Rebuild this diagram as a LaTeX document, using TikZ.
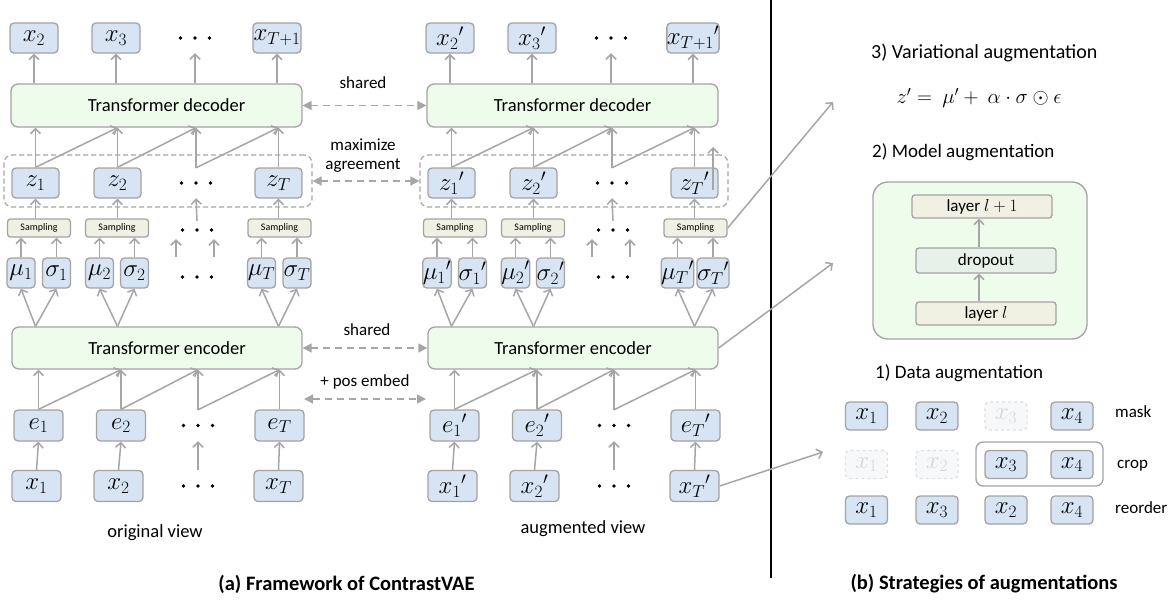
\documentclass[tikz,border=0pt]{standalone}
\usepackage{fontspec}
\setmainfont{Carlito}
\usetikzlibrary{arrows.meta}
\definecolor{boxblue}{HTML}{D6E4F4}
\definecolor{bord}{HTML}{A3A3A3}
\definecolor{arrg}{HTML}{A6A6A6}
\definecolor{grn}{HTML}{EEFCEB}
\definecolor{beige}{HTML}{F0F0E3}
\definecolor{drop}{HTML}{E7F0E9}
\definecolor{fadeb}{HTML}{F6F8FA}
\definecolor{fadel}{HTML}{E0E0E0}
\definecolor{fadet}{HTML}{D6D6D6}
\tikzset{
 bx/.style={draw=bord, fill=boxblue, line width=1.3pt, rounded corners=4pt, inner sep=0pt, minimum width=48, minimum height=30, font=\fontsize{23}{26}\selectfont},
 sbx/.style={bx, minimum width=28},
 fbx/.style={bx, draw=fadel, fill=fadeb, dashed, text=fadet},
 samp/.style={draw=bord, fill=beige, line width=1.3pt, rounded corners=3pt, inner sep=0pt, minimum width=63, minimum height=18, font=\fontsize{10}{12}\selectfont},
 tbox/.style={draw=bord, fill=grn, line width=1.3pt, rounded corners=7pt, inner sep=0pt, minimum width=290, minimum height=43, font=\fontsize{18.5}{22}\selectfont},
 lbox/.style={draw=bord, fill=beige, line width=1.3pt, rounded corners=3pt, inner sep=0pt, minimum width=140, minimum height=23, font=\fontsize{17}{20}\selectfont},
 dn/.style={inner sep=0pt, minimum width=40},
 lab/.style={inner sep=0pt, font=\fontsize{17}{19}\selectfont},
 head/.style={inner sep=0pt, anchor=west, font=\fontsize{19}{22}\selectfont},
 ttl/.style={inner sep=0pt, font=\fontsize{20.5}{24}\selectfont\bfseries},
 arr/.style={draw=arrg, line width=1.5pt, -{Straight Barb[length=5pt,width=10pt]}},
 darr/.style={draw=arrg, line width=1.5pt, dash pattern=on 7pt off 5pt, {Triangle[length=9pt,width=9pt]}-{Triangle[length=9pt,width=9pt]}},
 dashbox/.style={draw=arrg, line width=1.2pt, dash pattern=on 5pt off 3pt, rounded corners=8pt, inner sep=0pt},
}
\newcommand{\dotsat}[1]{\fill ([xshift=-14.5pt]#1.center) circle (1.8pt) (#1.center) circle (1.8pt) ([xshift=14.5pt]#1.center) circle (1.8pt);}
\newcommand{\drawview}[4]{%
\begin{scope}[xshift=#3]
 % top outputs
 \node[bx] (#1o2) at (34,38) {$x_2#2$};
 \node[bx] (#1o3) at (116,38) {$x_3#2$};
 \node[dn, minimum height=30] (#1od) at (195,38) {};
 \node[bx] (#1oT) at (277,38) {$x_{T+1}#2$};
 \node[tbox, minimum width=291] (#1dec) at (156.5,105.5) {#4Transformer decoder};
 % latent z
 \node[dashbox, minimum width=308, minimum height=52] (#1zb) at (158,181) {};
 \node[bx, minimum width=47] (#1z1) at (35.5,183) {$z_1#2$};
 \node[bx, minimum width=47] (#1z2) at (117.5,183) {$z_2#2$};
 \node[dn, minimum height=30] (#1zd) at (196,183) {};
 \node[bx, minimum width=47] (#1zT) at (278.5,183) {$z_T#2$};
 % sampling
 \node[samp] (#1s1) at (39,228) {Sampling};
 \node[samp] (#1s2) at (117,228) {Sampling};
 \node[dn, minimum height=18] (#1sd) at (197,230) {};
 \node[samp] (#1sT) at (279.5,228) {Sampling};
 % mu sigma
 \node[sbx] (#1m1) at (21,273) {$\mu_1#2$};
 \node[sbx] (#1g1) at (56.5,273) {$\sigma_1#2$};
 \node[sbx] (#1m2) at (99.5,273) {$\mu_2#2$};
 \node[sbx] (#1g2) at (134.5,273) {$\sigma_2#2$};
 \node[dn, minimum height=40] (#1md) at (197,277) {};
 \node[sbx] (#1mT) at (261.5,273) {$\mu_T#2$};
 \node[sbx] (#1gT) at (297,273) {$\sigma_T#2$};
 % encoder
 \node[tbox, minimum height=42] (#1enc) at (157,348) {#4Transformer encoder};
 % embeddings
 \node[bx, minimum width=49, minimum height=31] (#1e1) at (38.5,425.5) {$e_1#2$};
 \node[bx, minimum width=49, minimum height=31] (#1e2) at (121,425.5) {$e_2#2$};
 \node[dn, minimum height=31] (#1ed) at (198,425.5) {};
 \node[bx, minimum width=49, minimum height=31] (#1eT) at (279.5,425.5) {$e_T#2$};
 % inputs
 \node[bx, minimum width=49, minimum height=31] (#1i1) at (36.5,486) {$x_1#2$};
 \node[bx, minimum width=49, minimum height=31] (#1i2) at (118.5,486) {$x_2#2$};
 \node[dn, minimum height=31] (#1id) at (198,486) {};
 \node[bx, minimum width=49, minimum height=31] (#1iT) at (278.5,486) {$x_T#2$};
 \dotsat{#1od}\dotsat{#1zd}\dotsat{#1sd}\dotsat{#1md}\dotsat{#1ed}\dotsat{#1id}
 % arrows
 \foreach \n in {o2,o3,od,oT} \draw[arr] (#1dec.north -| #1\n) -- (#1\n.south);
 \foreach \n in {z1,z2,zd,zT} \draw[arr] (#1\n.north) -- (#1\n.north |- #1dec.south);
 \draw[arr] (#1z1.north) -- (#1z2.north |- #1dec.south);
 \draw[arr] (#1z2.north) -- (#1zd.north |- #1dec.south);
 \draw[arr] (#1zd.north) -- (#1zT.north |- #1dec.south);
 \foreach \s/\z in {s1/z1,s2/z2,sT/zT} \draw[arr] (#1\s.north -| #1\z) -- (#1\z.south);
 \draw[arr] (#1sd.north) -- (#1zd.south);
 \foreach \n/\s in {m1/s1,g1/s1,m2/s2,g2/s2,mT/sT,gT/sT} \draw[arr] (#1\n.north) -- (#1\n.north |- #1\s.south);
 \draw[arr] ([xshift=-21pt]#1md.north) -- ([xshift=-21pt]#1sd.south);
 \draw[arr] ([xshift=17pt]#1md.north) -- ([xshift=17pt]#1sd.south);
 \foreach \z/\m/\g in {z1/m1/g1,z2/m2/g2,zT/mT/gT} {
   \draw[arr] (#1enc.north -| #1\z) -- (#1\m.south);
   \draw[arr] (#1enc.north -| #1\z) -- (#1\g.south);
 }
 \foreach \n in {e1,e2,ed,eT} \draw[arr] (#1\n.north) -- (#1\n.north |- #1enc.south);
 \draw[arr] (#1e1.north) -- (#1e2.north |- #1enc.south);
 \draw[arr] (#1e2.north) -- (#1ed.north |- #1enc.south);
 \draw[arr] (#1ed.north) -- (#1eT.north |- #1enc.south);
 \foreach \a/\b in {i1/e1,i2/e2,id/ed,iT/eT} \draw[arr] (#1\a.north) -- (#1\b.south);
\end{scope}}
\begin{document}
\begin{tikzpicture}[x=1pt,y=-1pt]
\useasboundingbox (0,0) rectangle (1174,603);
\fill[white] (0,0) rectangle (1174,603);
\drawview{L}{}{0}{\hspace*{20pt}}
\drawview{R}{{}'}{416}{}
% labels under views
\node[lab, font=\fontsize{18.5}{22}\selectfont] (ov) at (155,533) {original view};
\node[lab, font=\fontsize{18.5}{22}\selectfont] (av) at (583,529) {augmented view};
% between views
\node[lab] (sh1) at (363,83) {shared};
\draw[darr] (Ldec.east) -- (Rdec.west);
\node[lab, align=center] (maxag) at (363,156) {maximize\\agreement};
\draw[darr] (Lzb.east) -- (Rzb.west);
\node[lab] (sh2) at (367,330) {shared};
\draw[darr] (Lenc.east) -- (Renc.west);
\node[lab] (pe) at (365,382) {+ pos embed};
\coordinate (pe1) at (304,399);
\coordinate (pe2) at (426,399);
\draw[darr] (pe1) -- (pe2);
% stray arrow in z_T'
\coordinate (artA) at (713,190);
\coordinate (artB) at (713,147);
\draw[arr] (artA) -- (artB);
% separator
\coordinate (sepT) at (771,0);
\coordinate (sepB) at (771,578);
\draw[line width=1.4pt] (sepT) -- (sepB);
% titles
\node[ttl] (ta) at (346.5,584) {(a) Framework of ContrastVAE};
\node[ttl] (tb) at (984,584) {(b) Strategies of augmentations};
% right panel
\node[head, font=\fontsize{20}{24}\selectfont] (h3) at (871,53) {3) Variational augmentation};
\node[inner sep=0pt, font=\fontsize{20}{24}\selectfont] (form) at (979,98) {$z' =\ \mu' +\ \alpha\cdot\sigma\odot\epsilon$};
\node[head] (h2) at (872,152) {2) Model augmentation};
\node[draw=bord, fill=grn, line width=1.3pt, rounded corners=15pt, minimum width=214, minimum height=157] (mbox) at (980,260.5) {};
\node[lbox] (l2) at (982,206.5) {layer $l+1$};
\node[lbox, fill=drop, minimum height=25] (dr) at (986,260.5) {dropout};
\node[lbox] (l1) at (986,313.5) {layer $l$};
\draw[arr] ([xshift=-7pt]l1.north) -- ([xshift=-7pt]dr.south);
\draw[arr] ([xshift=-7pt]dr.north) -- ([xshift=-3pt]l2.south);
\node[head] (h1) at (875,373) {1) Data augmentation};
\node[draw=bord, line width=1.3pt, rounded corners=7pt, minimum width=127, minimum height=44] (crop) at (1039.5,464) {};
\tikzset{dbx/.style={bx, minimum width=42, minimum height=28}, dfx/.style={fbx, minimum width=42, minimum height=28}}
\node[dbx] (a1) at (866.5,416) {$x_1$};
\node[dbx] (a2) at (937,416) {$x_2$};
\node[dfx] (a3) at (1006,416) {$x_3$};
\node[dbx] (a4) at (1072,416) {$x_4$};
\node[dfx] (b1) at (866.5,464.5) {$x_1$};
\node[dfx] (b2) at (937,464.5) {$x_2$};
\node[dbx] (b3) at (1006,464.5) {$x_3$};
\node[dbx] (b4) at (1072,464.5) {$x_4$};
\node[dbx] (c1) at (866.5,510) {$x_1$};
\node[dbx] (c2) at (937,510) {$x_3$};
\node[dbx] (c3) at (1006,510) {$x_2$};
\node[dbx] (c4) at (1072,510) {$x_4$};
\node[lab, anchor=west] (mk) at (1115,412) {mask};
\node[lab, anchor=west] (cp) at (1117,466) {crop};
\node[lab, anchor=west] (ro) at (1115,508) {reorder};
% links to right panel
\coordinate (va) at (833,102);
\coordinate (mda) at (833,263);
\coordinate (dda) at (823,452);
\draw[arr] (RsT.east) -- (va);
\draw[arr] (Renc.east) -- (mda);
\draw[arr] (RiT.east) -- (dda);
\end{tikzpicture}
\end{document}
